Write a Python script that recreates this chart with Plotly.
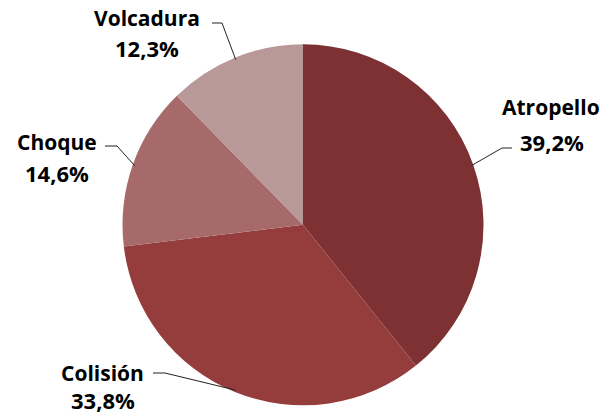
import math
import plotly.graph_objects as go

categories = ["Atropello", "Colisión", "Choque", "Volcadura"]
values = [39.2, 33.8, 14.6, 12.3]
colors = ["#7E3133", "#953D3D", "#A76A6A", "#B99898"]

W, H = 609, 416
CX, CY, R = 303.0, 224.8, 180.5

# label layout (pixel positions of name, percent, elbow start/end)
label_layout = {
    "Atropello": dict(name=(551, 107), pct=(552, 142), elbow=[(512, 148), (502, 148)]),
    "Colisión": dict(name=(103, 373), pct=(103, 400), elbow=[(153, 373), (165, 373)]),
    "Choque": dict(name=(57, 142), pct=(57, 173), elbow=[(105, 146), (117, 146)]),
    "Volcadura": dict(name=(147, 18), pct=(147, 48), elbow=[(212, 23), (222, 23)]),
}

def px(x):
    return x / W

def py(y):
    return 1 - y / H

fig = go.Figure(go.Pie(
    labels=categories,
    values=values,
    sort=False,
    direction="clockwise",
    rotation=0,
    marker=dict(colors=colors, line=dict(width=0)),
    textinfo="none",
    hoverinfo="label+percent",
    domain=dict(x=[px(CX - R), px(CX + R)], y=[py(CY + R), py(CY - R)]),
    showlegend=False,
))

font = dict(family="Open Sans, sans-serif", size=21, color="#000000")
pct_font = dict(family="Open Sans, sans-serif", size=22, color="#000000")
total = sum(values)
cum = 0.0
annotations = []
shapes = []
for cat, v in zip(categories, values):
    mid = (cum + v / 2) / total * 2 * math.pi
    cum += v
    ex = CX + (R - 2) * math.sin(mid)
    ey = CY - (R - 2) * math.cos(mid)
    L = label_layout[cat]
    annotations.append(dict(x=px(L["name"][0]), y=py(L["name"][1]), xref="paper", yref="paper",
                            text=f"<b>{cat}</b>", showarrow=False, font=font,
                            xanchor="center", yanchor="middle"))
    pct = f"{v:.1f}".replace(".", ",") + "%"
    annotations.append(dict(x=px(L["pct"][0]), y=py(L["pct"][1]), xref="paper", yref="paper",
                            text=f"<b>{pct}</b>", showarrow=False, font=pct_font,
                            xanchor="center", yanchor="middle"))
    (x0, y0), (x1, y1) = L["elbow"]
    path = f"M {px(x0)} {py(y0)} L {px(x1)} {py(y1)} L {px(ex)} {py(ey)}"
    shapes.append(dict(type="path", path=path, xref="paper", yref="paper",
                       line=dict(color="#222222", width=1)))

fig.update_layout(
    width=W, height=H,
    margin=dict(l=0, r=0, t=0, b=0),
    paper_bgcolor="white",
    plot_bgcolor="white",
    annotations=annotations,
    shapes=shapes,
)

fig.write_html("out.html", config={"displayModeBar": False},
               post_script="document.body.style.margin='0';document.body.style.overflow='hidden';")
